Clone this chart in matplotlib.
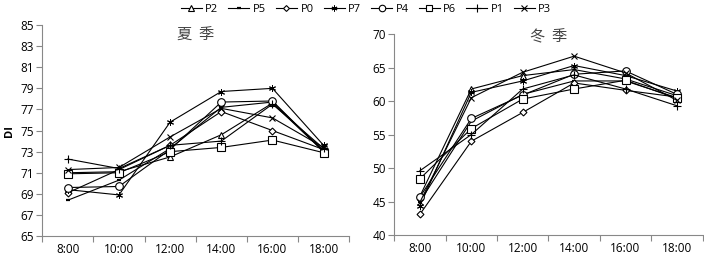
import numpy as np
import matplotlib
matplotlib.use('Agg')
import matplotlib.pyplot as plt

plt.rcParams['font.family'] = ['Open Sans', 'Noto Sans CJK SC', 'DejaVu Sans']

# horas del dia
times = ['8:00', '10:00', '12:00', '14:00', '16:00', '18:00']
series = ['P2', 'P5', 'P0', 'P7', 'P4', 'P6', 'P1', 'P3']

# verano (DI)
summer_P2 = [71.0, 71.1, 72.5, 74.6, 77.6, 73.0]
summer_P5 = [68.4, 70.3, 73.3, 77.2, 77.7, 73.1]
summer_P0 = [69.1, 71.3, 73.6, 76.8, 75.0, 73.2]
summer_P7 = [69.4, 68.9, 75.8, 78.7, 79.0, 73.6]
summer_P4 = [69.6, 69.7, 73.2, 77.7, 77.8, 73.0]
summer_P6 = [70.9, 71.0, 73.0, 73.4, 74.1, 72.9]
summer_P1 = [72.3, 71.4, 73.6, 74.0, 77.5, 73.3]
summer_P3 = [71.3, 71.5, 74.4, 77.1, 76.2, 73.4]

# invierno (DI)
winter_P2 = [45.8, 61.8, 63.8, 64.7, 63.3, 60.8]
winter_P5 = [45.0, 57.0, 61.0, 63.0, 63.0, 60.5]
winter_P0 = [43.1, 54.0, 58.3, 62.7, 61.6, 60.6]
winter_P7 = [44.4, 61.3, 63.0, 65.3, 63.8, 61.5]
winter_P4 = [45.7, 57.4, 60.9, 64.0, 64.5, 61.0]
winter_P6 = [48.4, 55.9, 60.3, 61.8, 63.1, 60.4]
winter_P1 = [49.6, 55.0, 61.8, 63.9, 61.8, 59.3]
winter_P3 = [44.9, 60.5, 64.3, 66.7, 64.2, 60.1]

summer = [summer_P2, summer_P5, summer_P0, summer_P7, summer_P4, summer_P6, summer_P1, summer_P3]
winter = [winter_P2, winter_P5, winter_P0, winter_P7, winter_P4, winter_P6, winter_P1, winter_P3]

markers = ['^', '_', 'D', (6, 2, 0), 'o', 's', '+', 'x']
msizes = [4.5, 3.5, 3.5, 5, 5.5, 5.5, 6, 5]
mews = [0.8, 1.6, 0.8, 0.7, 0.8, 0.8, 0.8, 0.8]

fig = plt.figure(figsize=(7.04, 2.58), dpi=100)
ax1 = fig.add_axes([0.060, 0.085, 0.436, 0.818])
ax2 = fig.add_axes([0.560, 0.089, 0.438, 0.779])

x = np.arange(len(times))


def draw(ax, data, ylim, yticks, title, ty):
    for vals, name, m, ms, mw in zip(data, series, markers, msizes, mews):
        ax.plot(x, vals, color='black', lw=0.8, marker=m, ms=ms,
                mfc='white', mec='black', mew=mw, label=name)
    ax.set_xlim(-0.5, len(times) - 0.5)
    ax.set_ylim(*ylim)
    ax.set_yticks(yticks)
    ax.set_xticks(np.arange(-0.5, len(times)), labels=[])
    ax.set_xticks(x, labels=times, minor=True)
    ax.tick_params(axis='x', which='minor', length=0, pad=5, labelsize=8.5)
    ax.tick_params(axis='x', which='major', length=4, direction='out', color='#888888')
    ax.tick_params(axis='y', length=4, direction='out', color='#888888', labelsize=8.5, pad=2)
    for s in ['top', 'right']:
        ax.spines[s].set_visible(False)
    for s in ['left', 'bottom']:
        ax.spines[s].set_color('#888888')
        ax.spines[s].set_linewidth(0.8)
    ax.text(0.5, ty, title, transform=ax.transAxes, ha='center', va='center',
            fontsize=11, family=['Noto Sans CJK SC', 'DejaVu Sans'], color='#444444')


draw(ax1, summer, (65, 85), np.arange(65, 86, 2), '夏  季', 0.95)
draw(ax2, winter, (40, 70), np.arange(40, 71, 5), '冬  季', 0.985)

ax1.set_ylabel('DI', fontsize=8, fontweight='bold', labelpad=4)

h, l = ax1.get_legend_handles_labels()
fig.legend(h, l, loc='upper center', bbox_to_anchor=(0.52, 1.025), ncol=8,
           frameon=False, fontsize=8, handlelength=1.9, columnspacing=0.9,
           handletextpad=0.3, markerscale=0.85)

plt.savefig('out.png', dpi=100)
